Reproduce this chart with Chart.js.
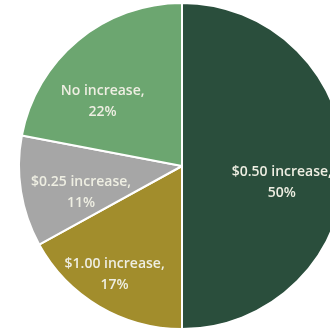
<!DOCTYPE html>
<html>
<head>
<meta charset="utf-8">
<script src="https://cdn.jsdelivr.net/npm/chart.js@4"></script>
<style>
  html, body { margin: 0; padding: 0; background: #fff; overflow: hidden; }
  #wrap { position: absolute; left: 0; top: 0; width: 364px; height: 332px; }
</style>
</head>
<body>
<div id="wrap"><canvas id="pieChart"></canvas></div>
<script>
// clockwise from 12 o'clock
const categories = ["$0.50 increase", "$1.00 increase", "$0.25 increase", "No increase"];
const shares = [50, 17, 11, 22];
const sliceColors = ["#2a4e3c", "#a28d2c", "#a6a6a6", "#6ca670"];

// where each label sits: [angle nudge in degrees, fraction of radius]
const labelPlace = [[9, 0.62], [1.4, 0.78], [-5.6, 0.64], [-11, 0.63]];

const sliceLabels = {
  id: "sliceLabels",
  afterDatasetsDraw(chart) {
    const ctx = chart.ctx;
    const meta = chart.getDatasetMeta(0);
    ctx.save();
    ctx.fillStyle = "#eeeee2";
    ctx.font = "600 14px 'Open Sans'";
    ctx.textAlign = "center";
    ctx.textBaseline = "middle";
    meta.data.forEach((arc, i) => {
      const p = arc.getProps(["x", "y", "startAngle", "endAngle", "outerRadius"], true);
      const mid = (p.startAngle + p.endAngle) / 2 + labelPlace[i][0] * Math.PI / 180;
      const r = p.outerRadius * labelPlace[i][1];
      const cx = p.x + Math.cos(mid) * r;
      const cy = p.y + Math.sin(mid) * r;
      ctx.fillText(categories[i] + ",", cx, cy - 10);
      ctx.fillText(shares[i] + "%", cx, cy + 11);
    });
    ctx.restore();
  }
};

const pieChart = new Chart(document.getElementById("pieChart"), {
  type: "pie",
  data: {
    labels: categories,
    datasets: [{
      data: shares,
      backgroundColor: sliceColors,
      borderColor: "#ffffff",
      borderWidth: 2
    }]
  },
  options: {
    responsive: true,
    maintainAspectRatio: false,
    animation: false,
    layout: { padding: 2 },
    plugins: {
      legend: { display: false },
      tooltip: { enabled: false }
    }
  },
  plugins: [sliceLabels]
});
</script>
</body>
</html>
